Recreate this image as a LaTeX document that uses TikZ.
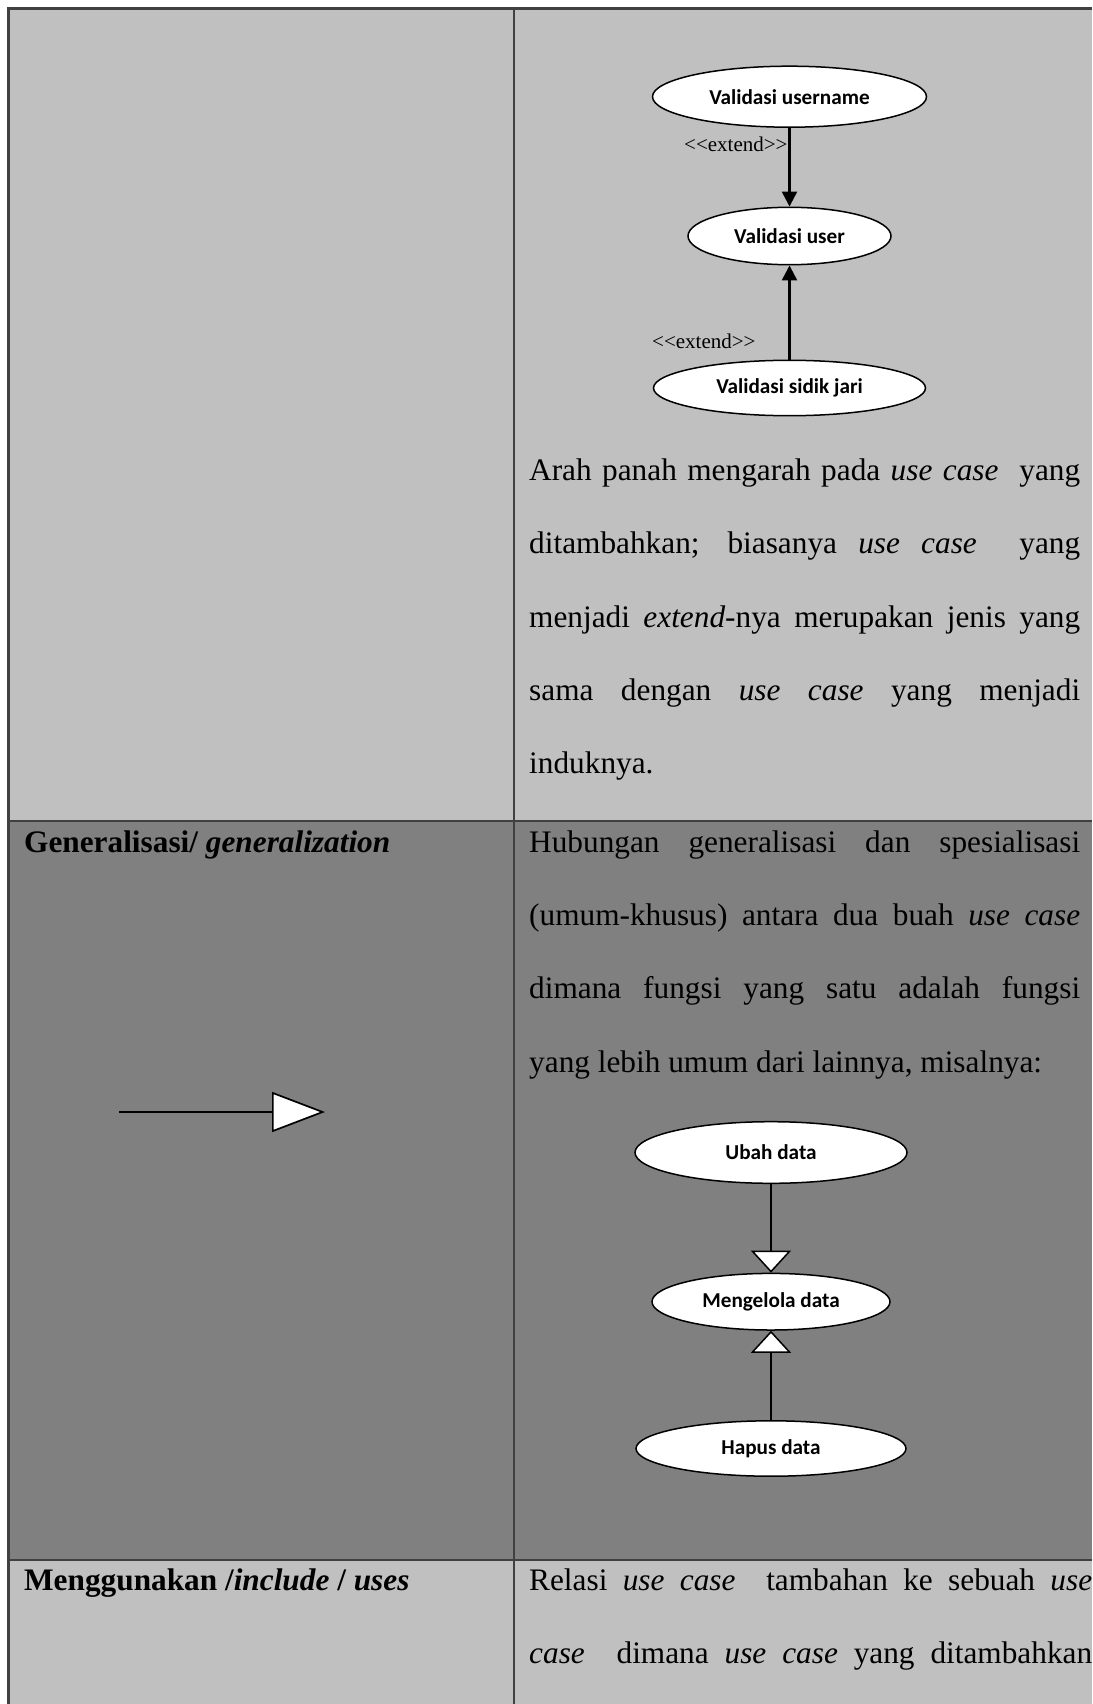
\documentclass[tikz,border=0pt]{standalone}
\usepackage{fontspec}
\setmainfont{Liberation Serif}
\newfontfamily\calib{Carlito}
\usetikzlibrary{shapes.geometric,arrows.meta}
\definecolor{lightrow}{RGB}{192,192,192}
\definecolor{darkrow}{RGB}{128,128,128}
\definecolor{rulec}{RGB}{64,64,64}
\newcommand{\bodyfont}{\fontsize{31.3}{36}\selectfont}
\newcommand{\jline}[2][551pt]{\makebox[#1][s]{#2}}
\begin{document}
\begin{tikzpicture}[x=1pt,y=-1pt,
  txt/.style={anchor=base west, inner sep=0pt, font=\bodyfont},
  ucase/.style={ellipse, draw=black, fill=white, line width=1.5pt, inner sep=0pt,
    font=\calib\bfseries\fontsize{21.2}{25}\selectfont},
  stereo/.style={anchor=base west, inner sep=0pt, font=\fontsize{21}{25}\selectfont},
  extarrow/.style={line width=2.4pt, -{Triangle[length=15pt,width=15pt]}},
  genarrow/.style={line width=1.5pt, -{Triangle[length=22pt,width=40pt,fill=white]}},
  rulestyle/.style={draw=rulec, line width=2.7pt}
]
\useasboundingbox (0,0) rectangle (1092,1704);
\fill[white] (0,0) rectangle (1092,1704);
% table rows
\fill[lightrow] (8.7,8.7) rectangle (1092,821);
\fill[darkrow] (8.7,821) rectangle (1092,1560);
\fill[lightrow] (8.7,1560) rectangle (1092,1704);
\draw[rulestyle, line join=miter] (1092,8.7) -- (8.7,8.7) -- (8.7,1704);
\draw[rulestyle] (514,8.7) -- (514,1704);
\draw[rulestyle] (8.7,821) -- (1092,821);
\draw[rulestyle] (8.7,1560) -- (1092,1560);

% extend diagram
\node[ucase, minimum width=274pt, minimum height=61pt] (vu) at (789.5,96.7) {Validasi username};
\node[ucase, minimum width=203pt, minimum height=57.4pt] (vs) at (789.5,236) {Validasi user};
\node[ucase, minimum width=272pt, minimum height=55.4pt] (vj) at (789.5,388) {Validasi sidik jari};
\draw[extarrow] (vu) -- (vs);
\draw[extarrow] (vj) -- (vs);
\node[stereo] (e1) at (684,152) {<{}<extend>{}>};
\node[stereo] (e2) at (652,348) {<{}<extend>{}>};

% extend text
\node[txt] (t1) at (529,480) {\jline{Arah panah mengarah pada \textit{use case}\ \ yang}};
\node[txt] (t2) at (529,553) {\jline{ditambahkan; biasanya \textit{use case}\ \ yang}};
\node[txt] (t3) at (529,627) {\jline{menjadi \textit{extend}-nya merupakan jenis yang}};
\node[txt] (t4) at (529,700) {\jline{sama dengan \textit{use case} yang menjadi}};
\node[txt] (t5) at (529,773) {induknya.};

% generalization row
\node[txt] (g0) at (24,852) {\textbf{Generalisasi/ \textit{generalization}}};
\coordinate (ga) at (119,1112);
\coordinate (gb) at (325,1112);
\draw[line width=1.7pt, -{Triangle[length=53pt,width=40pt,fill=white]}] (ga) -- (gb);

\node[txt] (g1) at (529,852) {\jline{Hubungan generalisasi dan spesialisasi}};
\node[txt] (g2) at (529,925) {\jline{(umum-khusus) antara dua buah \textit{use case}}};
\node[txt] (g3) at (529,998) {\jline{dimana fungsi yang satu adalah fungsi}};
\node[txt] (g4) at (529,1072) {yang lebih umum dari lainnya, misalnya:};

\node[ucase, minimum width=272pt, minimum height=61.6pt] (ud) at (771,1152.5) {Ubah data};
\node[ucase, minimum width=238pt, minimum height=56.6pt] (md) at (771,1301.7) {Mengelola data};
\node[ucase, minimum width=270pt, minimum height=55.4pt] (hd) at (771,1448.5) {Hapus data};
\draw[genarrow] (ud) -- (md);
\draw[genarrow] (hd) -- (md);

% include row
\node[txt] (i0) at (24,1590) {\textbf{Menggunakan /\textit{include} / \textit{uses}}};
\node[txt] (i1) at (529,1590) {\jline[563pt]{Relasi \textit{use case}\ \ tambahan ke sebuah \textit{use}}};
\node[txt] (i2) at (529,1663) {\jline[563pt]{\textit{case}\ \ dimana \textit{use case} yang ditambahkan}};
\end{tikzpicture}
\end{document}
